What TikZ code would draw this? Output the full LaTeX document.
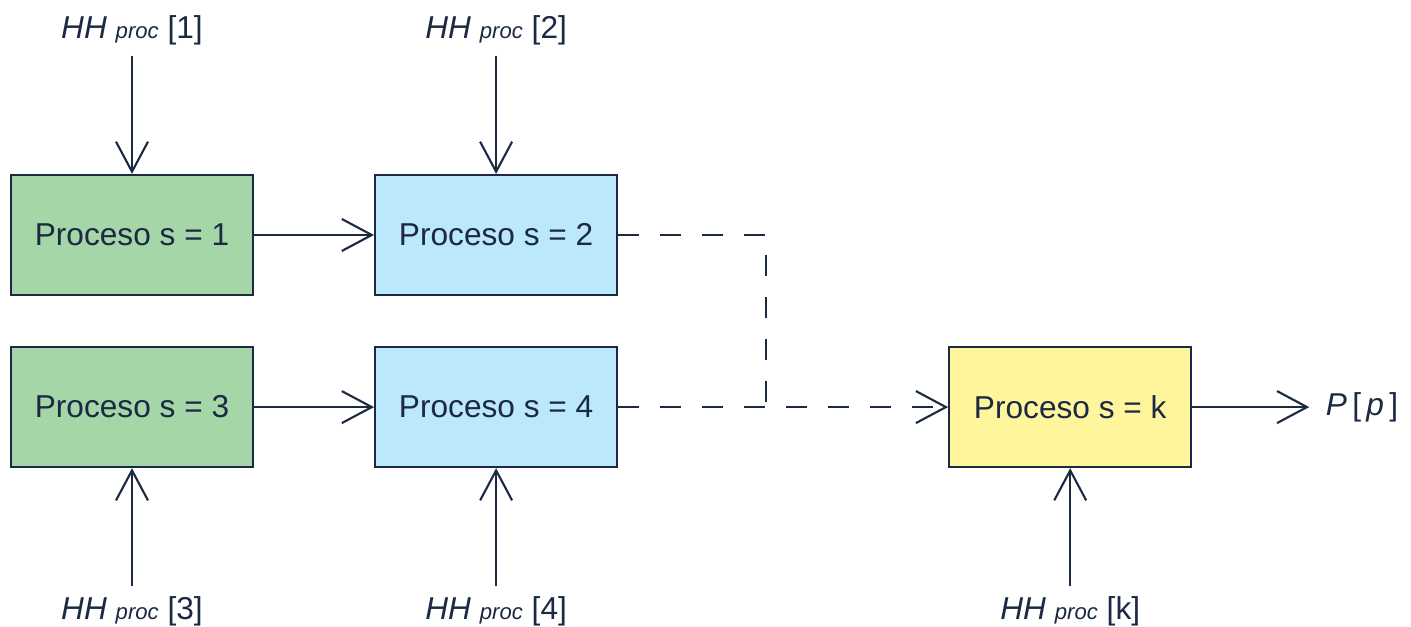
\documentclass[tikz,border=0pt]{standalone}
\usepackage{fontspec}
\setmainfont{Liberation Sans}
\usetikzlibrary{arrows.meta,positioning}
\definecolor{Ink}{RGB}{27,41,66}
\definecolor{SoftGreen}{RGB}{165,214,167}
\definecolor{SoftBlue}{RGB}{187,232,253}
\definecolor{SoftYellow}{RGB}{255,245,157}
\tikzset{
  procbox/.style={draw=Ink, line width=0.6pt, minimum width=2.42cm,
    minimum height=1.2cm, inner sep=0pt, text=Ink,
    font=\fontsize{9}{11}\selectfont},
  greenbox/.style={procbox, fill=SoftGreen},
  bluebox/.style={procbox, fill=SoftBlue},
  yellowbox/.style={procbox, fill=SoftYellow},
  hhlabel/.style={inner sep=1mm, text=Ink, font=\fontsize{9}{11}\selectfont},
  flow/.style={-{Straight Barb[length=3mm,width=3.2mm]}, line width=0.6pt, draw=Ink},
  dashline/.style={line width=0.6pt, draw=Ink, dash pattern=on 2.1mm off 2.1mm},
  dashflow/.style={flow, dash pattern=on 2.1mm off 2.1mm}
}
\newcommand{\hhproc}[1]{\textit{HH} {\fontsize{6.3}{7}\selectfont\textit{proc}} [#1]}

\begin{document}
\begin{tikzpicture}
  \useasboundingbox (0,0) rectangle (14.11,6.27);
  % process boxes
  \node[greenbox] (p1) at (1.32,3.92) {Proceso s = 1};
  \node[bluebox, right=1.2cm of p1] (p2) {Proceso s = 2};
  \node[greenbox, below=0.5cm of p1] (p3) {Proceso s = 3};
  \node[bluebox, right=1.2cm of p3] (p4) {Proceso s = 4};
  \node[yellowbox, right=3.3cm of p4] (pk) {Proceso s = k};

  % inputs
  \node[hhlabel, above=1.18cm of p1] (hh1) {\hhproc{1}};
  \node[hhlabel, above=1.18cm of p2] (hh2) {\hhproc{2}};
  \node[hhlabel, below=1.18cm of p3] (hh3) {\hhproc{3}};
  \node[hhlabel, below=1.18cm of p4] (hh4) {\hhproc{4}};
  \node[hhlabel, below=1.18cm of pk] (hhk) {\hhproc{k}};
  \node[hhlabel, inner xsep=1.6mm, right=1.17cm of pk] (out) {\textit{P}\,[\,\textit{p}\,]};

  \draw[flow] (hh1) -- (p1);
  \draw[flow] (hh2) -- (p2);
  \draw[flow] (hh3) -- (p3);
  \draw[flow] (hh4) -- (p4);
  \draw[flow] (hhk) -- (pk);
  \draw[flow] (p1) -- (p2);
  \draw[flow] (p3) -- (p4);
  \draw[flow] (pk) -- (out);

  % dashed links into the last process
  \coordinate[right=1.48cm of p2.east] (bend);
  \draw[dashline] (p2.east) -- (bend) -- (bend |- pk.west);
  \draw[dashflow] (p4.east) -- (pk.west);
\end{tikzpicture}
\end{document}
